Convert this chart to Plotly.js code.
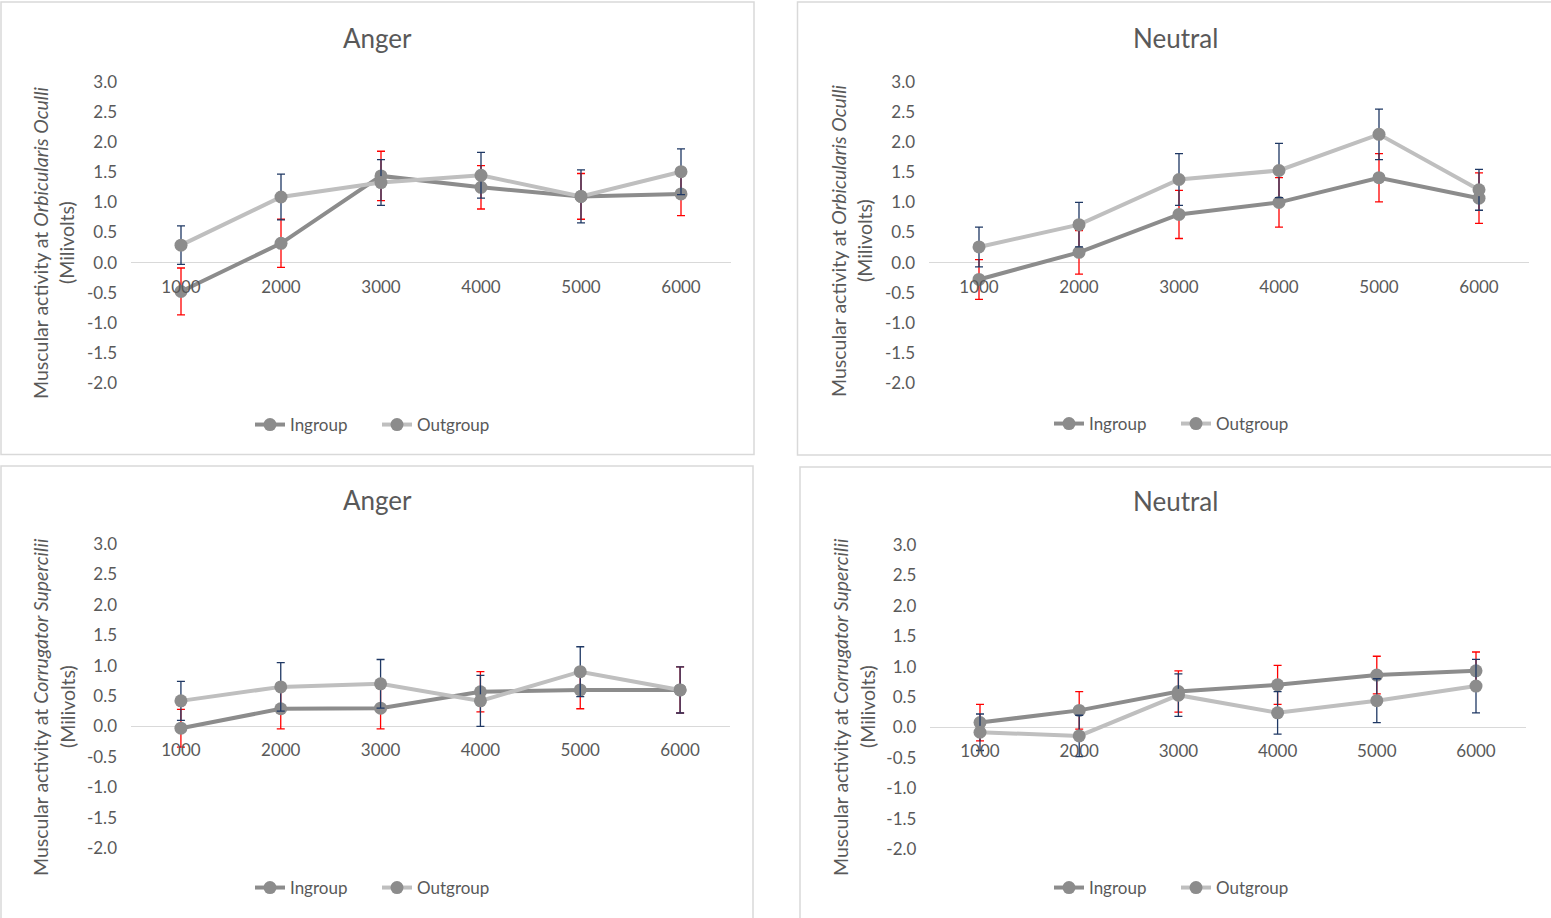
<!DOCTYPE html>
<html>
<head>
<meta charset="utf-8">
<script src="https://cdn.plot.ly/plotly-3.0.1.min.js"></script>
<style>
  html, body { margin: 0; padding: 0; background: #ffffff; }
  #chart { width: 1551px; height: 918px; }
</style>
</head>
<body>
<div id="chart"></div>
<script>
// ---------------- DATA ----------------
const timeLabels = ['1000', '2000', '3000', '4000', '5000', '6000'];
const seriesNames = ['Ingroup', 'Outgroup'];
const panelTitles = ['Anger', 'Neutral', 'Anger', 'Neutral'];
const muscleNames = ['Orbicularis Oculli', 'Orbicularis Oculli', 'Corrugator Supercilii', 'Corrugator Supercilii'];
const yTickVals = [-2.0, -1.5, -1.0, -0.5, 0.0, 0.5, 1.0, 1.5, 2.0, 2.5, 3.0];
const yTickText = ['-2.0', '-1.5', '-1.0', '-0.5', '0.0', '0.5', '1.0', '1.5', '2.0', '2.5', '3.0'];

// Orbicularis Oculli - Anger
const ooAngerIn     = [-0.48, 0.32, 1.44, 1.25, 1.10, 1.14];
const ooAngerInErr  = [0.39, 0.40, 0.41, 0.36, 0.38, 0.36];
const ooAngerOut    = [0.29, 1.09, 1.33, 1.45, 1.10, 1.51];
const ooAngerOutErr = [0.32, 0.38, 0.38, 0.38, 0.44, 0.38];
// Orbicularis Oculli - Neutral
const ooNeutralIn     = [-0.28, 0.17, 0.80, 1.00, 1.41, 1.07];
const ooNeutralInErr  = [0.33, 0.36, 0.40, 0.41, 0.40, 0.42];
const ooNeutralOut    = [0.26, 0.63, 1.38, 1.53, 2.13, 1.21];
const ooNeutralOutErr = [0.33, 0.37, 0.43, 0.45, 0.42, 0.34];
// Corrugator Supercilii - Anger
const csAngerIn     = [-0.03, 0.29, 0.30, 0.57, 0.60, 0.60];
const csAngerInErr  = [0.31, 0.33, 0.34, 0.33, 0.31, 0.38];
const csAngerOut    = [0.42, 0.65, 0.70, 0.42, 0.90, 0.60];
const csAngerOutErr = [0.32, 0.40, 0.40, 0.42, 0.41, 0.38];
// Corrugator Supercilii - Neutral
const csNeutralIn     = [0.08, 0.28, 0.59, 0.70, 0.86, 0.93];
const csNeutralInErr  = [0.30, 0.31, 0.34, 0.32, 0.31, 0.31];
const csNeutralOut    = [-0.08, -0.14, 0.53, 0.24, 0.44, 0.68];
const csNeutralOutErr = [0.30, 0.34, 0.35, 0.35, 0.36, 0.44];

const panelData = [
  [ooAngerIn, ooAngerInErr, ooAngerOut, ooAngerOutErr],
  [ooNeutralIn, ooNeutralInErr, ooNeutralOut, ooNeutralOutErr],
  [csAngerIn, csAngerInErr, csAngerOut, csAngerOutErr],
  [csNeutralIn, csNeutralInErr, csNeutralOut, csNeutralOutErr]
];

// ---------------- LAYOUT (pixels) ----------------
const W = 1551, H = 918;
const FONT = 'Lato, "Open Sans", sans-serif';
const TXT = '#595959';
const px = p => p / W;
const py = p => 1 - p / H;

const panels = [
  {x0: 131, x1: 731,   yTop: 82,  yBot: 383, box: [1, 2, 754, 454.5],   titleX: 377,  titleY: 38,  ytX: 41,  yt2X: 67,  ytY: 243, legX: 377,  legY: 425},
  {x0: 929, x1: 1529,  yTop: 82,  yBot: 383, box: [797.5, 2, 1560, 455], titleX: 1175, titleY: 38,  ytX: 838, yt2X: 864, ytY: 241, legX: 1176, legY: 424},
  {x0: 131, x1: 730,   yTop: 544, yBot: 848, box: [1, 466, 753, 930],   titleX: 377,  titleY: 500, ytX: 40,  yt2X: 67,  ytY: 707, legX: 377,  legY: 888},
  {x0: 930.4, x1: 1525.6, yTop: 545, yBot: 849, box: [800, 467, 1560, 930], titleX: 1175, titleY: 501, ytX: 840, yt2X: 867, ytY: 707, legX: 1176, legY: 888}
];

const traces = [];
const layout = {
  width: W, height: H,
  margin: {l: 0, r: 0, t: 0, b: 0},
  paper_bgcolor: '#ffffff',
  plot_bgcolor: 'rgba(0,0,0,0)',
  font: {family: FONT, color: TXT, size: 16},
  showlegend: true,
  shapes: [],
  annotations: []
};

panels.forEach((p, i) => {
  const n = i === 0 ? '' : String(i + 1);
  const xa = 'xaxis' + n, ya = 'yaxis' + n;
  const xr = 'x' + n, yr = 'y' + n;
  const legName = 'legend' + n;
  const zeroPx = p.yTop + (3 / 5) * (p.yBot - p.yTop);

  layout[xa] = {
    domain: [px(p.x0), px(p.x1)],
    type: 'category',
    range: [-0.5, 5.5],
    anchor: 'free',
    position: py(zeroPx),
    showgrid: false, zeroline: false, showline: false,
    ticks: '',
    ticklabelstandoff: 12,
    tickfont: {family: FONT, size: 17, color: TXT},
    fixedrange: true
  };
  layout[ya] = {
    domain: [py(p.yBot), py(p.yTop)],
    range: [-2, 3],
    anchor: xr,
    tickvals: yTickVals,
    ticktext: yTickText,
    showgrid: false,
    zeroline: true, zerolinecolor: '#d9d9d9', zerolinewidth: 1,
    showline: false, ticks: '',
    ticklabelstandoff: 13,
    tickfont: {family: FONT, size: 17, color: TXT},
    fixedrange: true
  };

  layout[legName] = {
    orientation: 'h',
    x: px(p.legX), xanchor: 'center', xref: 'paper',
    y: py(p.legY), yanchor: 'middle', yref: 'paper',
    font: {family: FONT, size: 17, color: TXT},
    bgcolor: 'rgba(0,0,0,0)',
    itemwidth: 30,
    entrywidth: 82,
    traceorder: 'normal'
  };

  const d = panelData[i];
  const colors = [
    {line: '#8c8c8c', err: '#ff0000'},
    {line: '#bfbfbf', err: '#1f3864'}
  ];
  [0, 1].forEach(s => {
    traces.push({
      type: 'scatter', mode: 'lines+markers',
      x: timeLabels, y: d[s * 2],
      name: seriesNames[s],
      xaxis: xr, yaxis: yr,
      legend: legName,
      line: {color: colors[s].line, width: 4},
      marker: {color: '#8c8c8c', size: 13},
      error_y: {type: 'data', array: d[s * 2 + 1], visible: true, color: colors[s].err, thickness: 1.3, width: 4},
      hoverinfo: 'skip'
    });
  });

  layout.shapes.push({
    type: 'rect', xref: 'paper', yref: 'paper',
    x0: px(p.box[0]), x1: px(p.box[2]), y0: py(p.box[3]), y1: py(p.box[1]),
    line: {color: '#d9d9d9', width: 1.5}, fillcolor: 'rgba(0,0,0,0)', layer: 'below'
  });

  layout.annotations.push({
    text: panelTitles[i], showarrow: false,
    xref: 'paper', yref: 'paper', x: px(p.titleX), y: py(p.titleY),
    xanchor: 'center', yanchor: 'middle',
    font: {family: FONT, size: 26, color: TXT}
  });
  layout.annotations.push({
    text: 'Muscular activity at <i>' + muscleNames[i] + '</i>', showarrow: false,
    xref: 'paper', yref: 'paper', x: px(p.ytX), y: py(p.ytY),
    xanchor: 'center', yanchor: 'middle', textangle: -90,
    font: {family: FONT, size: 19.5, color: TXT}
  });
  layout.annotations.push({
    text: '(Milivolts)', showarrow: false,
    xref: 'paper', yref: 'paper', x: px(p.yt2X), y: py(p.ytY),
    xanchor: 'center', yanchor: 'middle', textangle: -90,
    font: {family: FONT, size: 19.5, color: TXT}
  });
});

Plotly.newPlot('chart', traces, layout, {displayModeBar: false, staticPlot: true});
</script>
</body>
</html>
